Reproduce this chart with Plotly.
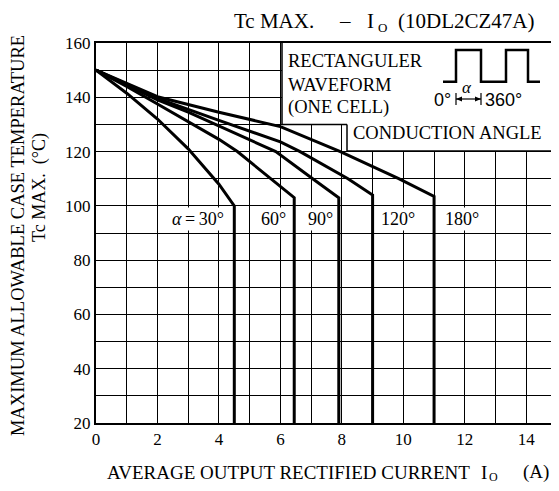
import plotly.graph_objects as go

# ---- data ----
x30 = [0, 1, 2, 3, 4, 4.5, 4.5]
y30 = [150, 141.5, 132, 121, 108, 100, 20]
x60 = [0, 1, 2, 3, 4, 4.6, 5.65, 6.45, 6.45]
y60 = [150, 144, 137.5, 131, 124.5, 120, 110.5, 103, 20]
x90 = [0, 1, 2, 3, 4, 5, 5.85, 7.05, 7.9, 7.9]
y90 = [150, 144.5, 139, 134.5, 129.5, 124.5, 120, 110, 103, 20]
x120 = [0, 2, 4, 6, 6.64, 8.2, 9.0, 9.0]
y120 = [150, 139.6, 131.5, 123.6, 120, 110, 104, 20]
x180 = [0, 2, 4, 6, 7.95, 9.85, 11.0, 11.0]
y180 = [150, 140.2, 134.5, 129.2, 120, 110, 103.5, 20]

series = [(x30, y30), (x60, y60), (x90, y90), (x120, y120), (x180, y180)]
curve_labels = ["<i>\u03b1</i>\u2009=\u200930\u00b0", "60\u00b0", "90\u00b0", "120\u00b0", "180\u00b0"]
label_x = [3.32, 5.79, 7.29, 9.83, 11.91]
label_y = 95.2

xticks = [0, 2, 4, 6, 8, 10, 12, 14]
yticks = [20, 40, 60, 80, 100, 120, 140, 160]

FONT = "Liberation Serif"
SANS = "Liberation Sans"

fig = go.Figure()
for xs, ys in series:
    fig.add_trace(go.Scatter(x=xs, y=ys, mode="lines",
                             line=dict(color="black", width=3),
                             showlegend=False, hoverinfo="skip"))

# page has an 8px body margin: figure is sized to fit inside the window
OFF = 8
W, H = 551, 483
L, R, T, B = 88, 2, 35, 68
PW, PH = W - L - R, H - T - B


def px(x):  # reference-window pixel -> paper
    return (x - OFF - L) / PW


def py(y):
    return (H - B - (y - OFF)) / PH


shapes = []
# white legend region (covers grid)
shapes.append(dict(type="path", xref="paper", yref="paper",
                   path=f"M {px(282)},{py(43)} L {px(557)},{py(43)} L {px(557)},{py(151)} "
                        f"L {px(347)},{py(151)} L {px(347)},{py(124.5)} L {px(282)},{py(124.5)} Z",
                   fillcolor="white", line=dict(width=0), layer="above"))
for (x0, y0, x1, y1) in [(282, 43, 282, 124.5), (282, 124.5, 347, 124.5),
                         (347, 124.5, 347, 151), (347, 151, 557, 151)]:
    shapes.append(dict(type="line", xref="paper", yref="paper",
                       x0=px(x0), y0=py(y0), x1=px(x1), y1=py(y1),
                       line=dict(color="black", width=1.5), layer="above"))
# square waveform icon
wave = [(443, 81.7), (456, 81.7), (456, 50), (481, 50), (481, 81.7), (506, 81.7),
        (506, 50), (528, 50), (528, 81.7), (540, 81.7)]
path = "M " + " L ".join(f"{px(a)},{py(b)}" for a, b in wave)
shapes.append(dict(type="path", xref="paper", yref="paper", path=path,
                   line=dict(color="black", width=2.5), layer="above"))
for xx in (456, 481):
    shapes.append(dict(type="line", xref="paper", yref="paper",
                       x0=px(xx), y0=py(93), x1=px(xx), y1=py(105),
                       line=dict(color="black", width=1.2), layer="above"))
shapes.append(dict(type="line", xref="paper", yref="paper",
                   x0=px(456), y0=py(99), x1=px(481), y1=py(99),
                   line=dict(color="black", width=1.2), layer="above"))
for tip, base in ((456, 462), (481, 475)):
    shapes.append(dict(type="path", xref="paper", yref="paper",
                       path=f"M {px(tip)},{py(99)} L {px(base)},{py(96.5)} L {px(base)},{py(101.5)} Z",
                       fillcolor="black", line=dict(width=0), layer="above"))

fig.update_layout(shapes=shapes)

ann = []
for t, xv in zip(curve_labels, label_x):
    ann.append(dict(x=xv, y=label_y, xref="x", yref="y", text=t, showarrow=False,
                    font=dict(family=FONT, size=18, color="black"),
                    bgcolor="white", borderpad=1))


def text(x, y, t, size, anchor="center", angle=0, family=FONT):
    ann.append(dict(x=px(x), y=py(y), xref="paper", yref="paper", text=t,
                    showarrow=False, xanchor=anchor, yanchor="middle", textangle=angle,
                    font=dict(family=family, size=size, color="black")))


# legend box texts
text(286, 61, "RECTANGULER", 18.5, "left")
text(286, 85, "WAVEFORM", 18.5, "left")
text(286, 108, "(ONE CELL)", 18.5, "left")
text(351, 133, "CONDUCTION ANGLE", 18.5, "left")
text(453, 100, "0\u00b0", 18, "right", family=SANS)
text(467, 87, "<i>\u03b1</i>", 17, family=FONT)
text(483, 100, "360\u00b0", 18, "left", family=SANS)

# chart title
text(232, 21, "Tc MAX.", 21, "left")
text(345, 21, "\u2013", 21)
text(370, 21, "I", 21)
text(382, 27, "O", 13)
text(536, 21, "(10DL2CZ47A)", 21, "right")

# x axis title
text(105, 472, "AVERAGE OUTPUT RECTIFIED CURRENT", 19, "left")
text(484, 472, "I", 19)
text(493, 477, "O", 12)
text(551, 472, "(A)", 19, "right")

# y axis title (two lines)
text(18, 236, "MAXIMUM ALLOWABLE CASE TEMPERATURE", 18.5, "center", -90)
text(39, 188, "Tc MAX.  (\u00b0C)", 18, "center", -90)

fig.update_layout(annotations=ann)

axis_common = dict(showline=True, linecolor="black", linewidth=2, mirror=True,
                   showgrid=True, gridcolor="black", gridwidth=1, zeroline=False,
                   ticks="", ticklen=0, tickfont=dict(family=FONT, size=17, color="black"))
fig.update_xaxes(range=[0, 15], tickvals=xticks, ticktext=[str(v) for v in xticks],
                 minor=dict(dtick=1, showgrid=True, gridcolor="black", gridwidth=1),
                 **axis_common)
fig.update_yaxes(range=[20, 160], tickvals=yticks, ticktext=[str(v) for v in yticks],
                 minor=dict(dtick=10, showgrid=True, gridcolor="black", gridwidth=1),
                 **axis_common)

fig.update_layout(width=W, height=H, margin=dict(l=L, r=R, t=T, b=B, autoexpand=False),
                  paper_bgcolor="white", plot_bgcolor="white",
                  font=dict(family=FONT, color="black"))

fig.write_html("out.html")
